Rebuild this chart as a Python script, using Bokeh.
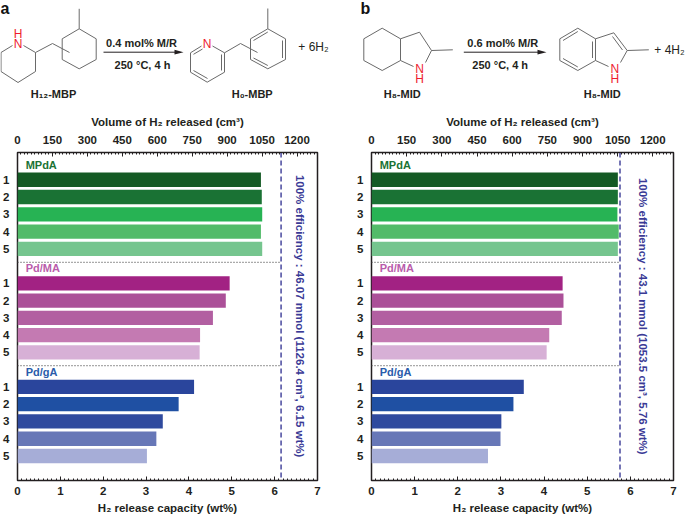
from bokeh.plotting import figure
from bokeh.layouts import column, row
from bokeh.models import Range1d, LinearAxis, FixedTicker
from bokeh.embed import file_html
from bokeh.resources import INLINE

FONT = "Liberation Sans"

# ---------- data ----------
groups = ["MPdA", "Pd/MA", "Pd/gA"]
run_labels = ["1", "2", "3", "4", "5"]
capacity_a_mpda = [5.68, 5.70, 5.71, 5.68, 5.71]
capacity_a_pdma = [4.95, 4.86, 4.56, 4.26, 4.25]
capacity_a_pdga = [4.12, 3.76, 3.39, 3.24, 3.02]
capacity_b_mpda = [5.71, 5.71, 5.70, 5.73, 5.71]
capacity_b_pdma = [4.43, 4.45, 4.41, 4.12, 4.06]
capacity_b_pdga = [3.53, 3.29, 3.01, 2.99, 2.70]
limit_a = 6.15
limit_b = 5.76
colors_mpda = ["#145A24", "#1A7234", "#27B354", "#52BB69", "#75C58E"]
colors_pdma = ["#A22283", "#AB5098", "#B25FA1", "#C47AB2", "#D7B0D6"]
colors_pdga = ["#2A459C", "#1F50A3", "#2F4A9E", "#6777B7", "#A6ADD7"]
group_colors = ["#1A7234", "#B95CAB", "#2A5CAB"]
wt_ticks = [0, 1, 2, 3, 4, 5, 6, 7]
vol_ticks = [0, 150, 300, 450, 600, 750, 900, 1050, 1200]
note_a = "100% efficiency : 46.07 mmol (1126.4 cm³, 6.15 wt%)"
note_b = "100% efficiency : 43.1 mmol (1053.5 cm³, 5.76  wt%)"

NAVY = "#3A3A96"
DARK = "#231F20"
BOND = "#6A6A6A"
RED = "#EE1C2E"


def panel(vals, limit, note, note_x, note_y, border_l, border_r):
    p = figure(width=border_l + 302 + border_r, height=408,
               x_range=Range1d(0, 7), y_range=Range1d(17.42, -1.58),
               output_backend="svg", toolbar_location=None,
               min_border_left=border_l, min_border_right=border_r,
               min_border_top=44, min_border_bottom=34,
               x_axis_location=None, y_axis_location=None)
    p.grid.visible = False
    p.outline_line_color = DARK
    p.outline_line_width = 1.5
    p.background_fill_color = "white"

    offsets = [0, 6, 12]
    palettes = [colors_mpda, colors_pdma, colors_pdga]
    ticks = {}
    for off, series, pal, name, gc in zip(offsets, vals, palettes, groups, group_colors):
        y = [off + i for i in range(len(series))]
        p.hbar(y=y, right=series, left=0, height=0.83, fill_color=pal, line_color=None)
        p.text(x=[0.19], y=[off - 0.88], text=[name], text_color=gc,
               text_font_size="11px", text_font_style="bold", text_font={"value": FONT},
               text_align="left", text_baseline="middle")
        for yy, lab in zip(y, run_labels):
            ticks[yy] = lab

    for sep in [4.78, 10.77]:
        p.line([0, limit], [sep, sep], line_color="#555555", line_dash="1 2", line_width=1.2)
    p.line([limit, limit], [-1.58, 17.42], line_color=NAVY, line_dash="5 3", line_width=1.4)
    p.text(x=[note_x], y=[note_y], text=[note], angle=-1.5708, text_color=NAVY,
           text_font_size="11.5px", text_font_style="bold", text_font={"value": FONT},
           text_align="center", text_baseline="middle")

    bottom = LinearAxis(ticker=FixedTicker(ticks=wt_ticks,
                                           minor_ticks=[i * 0.1 for i in range(71)]),
                        axis_label="H₂ release capacity (wt%)")
    p.extra_x_ranges = {"vol": Range1d(0, 1288)}
    top = LinearAxis(x_range_name="vol",
                     ticker=FixedTicker(ticks=vol_ticks,
                                        minor_ticks=[i * 15 for i in range(86)]),
                     axis_label="Volume of H₂ released (cm³)")
    left = LinearAxis(ticker=FixedTicker(ticks=list(ticks)), major_label_overrides=ticks)
    for ax, st_lab, st_title in ((bottom, 6, 4), (top, 9, 5)):
        ax.major_tick_in = 4
        ax.major_tick_out = 0
        ax.minor_tick_in = 2
        ax.minor_tick_out = 0
        ax.major_tick_line_color = DARK
        ax.minor_tick_line_color = DARK
        ax.axis_line_color = DARK
        ax.major_label_text_font = FONT
        ax.major_label_text_font_size = "11.5px"
        ax.major_label_text_font_style = "bold"
        ax.major_label_text_color = DARK
        ax.major_label_standoff = st_lab
        ax.axis_label_text_font = FONT
        ax.axis_label_text_font_size = "11.5px"
        ax.axis_label_text_font_style = "bold"
        ax.axis_label_text_color = DARK
        ax.axis_label_standoff = st_title
    left.major_tick_line_color = None
    left.minor_tick_line_color = None
    left.axis_line_color = None
    left.major_label_text_font = FONT
    left.major_label_text_font_size = "11.5px"
    left.major_label_text_font_style = "bold"
    left.major_label_text_color = DARK
    left.major_label_standoff = 2
    p.add_layout(bottom, "below")
    p.add_layout(top, "above")
    p.add_layout(left, "left")
    return p


plot_a = panel([capacity_a_mpda, capacity_a_pdma, capacity_a_pdga], limit_a, note_a, 6.6, 7.9, 15, 24)
plot_b = panel([capacity_b_mpda, capacity_b_pdma, capacity_b_pdga], limit_b, note_b, 6.3, 8.0, 30, 12)

# ---------- reaction schemes ----------
chem = figure(width=685, height=108, x_range=Range1d(0, 685), y_range=Range1d(108, 0),
              output_backend="svg", toolbar_location=None, min_border=0,
              x_axis_location=None, y_axis_location=None, outline_line_color=None)
chem.grid.visible = False


def bonds(*paths):
    for path in paths:
        chem.line([q[0] for q in path], [q[1] for q in path], line_color=BOND, line_width=1.0)


def txt(x, y, s, size="11px", color=DARK, style="bold"):
    chem.text(x=[x], y=[y], text=[s], text_color=color, text_font_size=size,
              text_font_style=style, text_font={"value": FONT},
              text_align="center", text_baseline="middle")


def arrow(x0, x1, y):
    chem.line([x0, x1 - 6], [y, y], line_color=DARK, line_width=1.0)
    chem.patch([x1 - 9, x1, x1 - 9], [y - 2.4, y, y + 2.4], fill_color=DARK, line_color=None)


# a: H12-MBP
bonds([(12, 45), (0.5, 52), (0.5, 71), (17.5, 82), (35, 71), (35, 52), (23, 45)],
      [(35, 52), (52, 43), (69, 52)],
      [(78.7, 28.3), (95.7, 38.3), (95.7, 59), (78.7, 68.3), (61.7, 59), (61.7, 38.3), (78.7, 28.3)],
      [(78.7, 8.3), (78.7, 28.3)])
txt(17.5, 43.5, "N", "12px", RED, "normal")
txt(17.5, 33, "H", "12px", RED, "normal")
txt(53, 93, "H₁₂-MBP")
# a: H0-MBP
bonds([(201, 45.5), (190, 52.3), (190, 71.7), (206.7, 81.7), (224, 71.7), (224, 52.3), (212, 45.5)],
      [(202, 48.5), (193, 53.8)], [(221, 54), (221, 70)], [(207, 78), (193, 70)],
      [(224, 52.3), (240, 43), (257, 52)],
      [(267.3, 28.3), (285, 38.3), (285, 59), (267.3, 68.3), (250, 59), (250, 38.3), (267.3, 28.3)],
      [(267.3, 31.5), (253, 40)], [(282, 40), (282, 57.5)], [(253, 57.5), (267.3, 65)],
      [(267.3, 8), (267.3, 28.3)])
txt(206.7, 43.5, "N", "12px", RED, "normal")
txt(251.7, 93, "H₀-MBP")
txt(313, 46.7, "+ 6H₂", "12px", DARK, "normal")
arrow(103, 183, 51.7)
txt(141, 42.7, "0.4 mol% M/R")
txt(142, 64, "250 °C, 4 h")
txt(4.5, 8, "a", "16px", "#111111")

# b: H8-MID (left)
bonds([(363.3, 38.3), (381.7, 27.7), (400, 38.3), (400, 60), (381.7, 70), (363.3, 60), (363.3, 38.3)],
      [(400, 38.3), (419, 31.7), (431, 50), (425, 62)], [(400, 60), (413, 66)],
      [(431, 50), (452.3, 49.3)])
txt(419, 68.5, "N", "12px", RED, "normal")
txt(419, 78.5, "H", "12px", RED, "normal")
txt(401.7, 93, "H₈-MID")
# b: H8-MID (right)
bonds([(559.3, 38.3), (577.3, 27.7), (595, 38.3), (595, 60), (577.3, 70), (559.3, 60), (559.3, 38.3)],
      [(562.5, 40), (577.3, 31)], [(592, 41), (592, 57.5)], [(577.3, 66.5), (562.5, 58)],
      [(595, 38.3), (613.3, 32.3), (626.7, 50), (620, 62)], [(595, 60), (608, 66)],
      [(612, 36), (622, 49.5)], [(626.7, 50), (648.3, 49.3)])
txt(614.3, 68.5, "N", "12px", RED, "normal")
txt(614.3, 78.5, "H", "12px", RED, "normal")
txt(601.7, 93, "H₈-MID")
txt(669, 49, "+ 4H₂", "12px", DARK, "normal")
arrow(463.3, 546, 51.7)
txt(502.3, 42.7, "0.6 mol% M/R")
txt(499.7, 64, "250 °C, 4 h")
txt(365, 8, "b", "16px", "#111111")

page = column(chem, row(plot_a, plot_b, spacing=0), spacing=0)
open("out.html", "w").write(file_html(page, INLINE))
